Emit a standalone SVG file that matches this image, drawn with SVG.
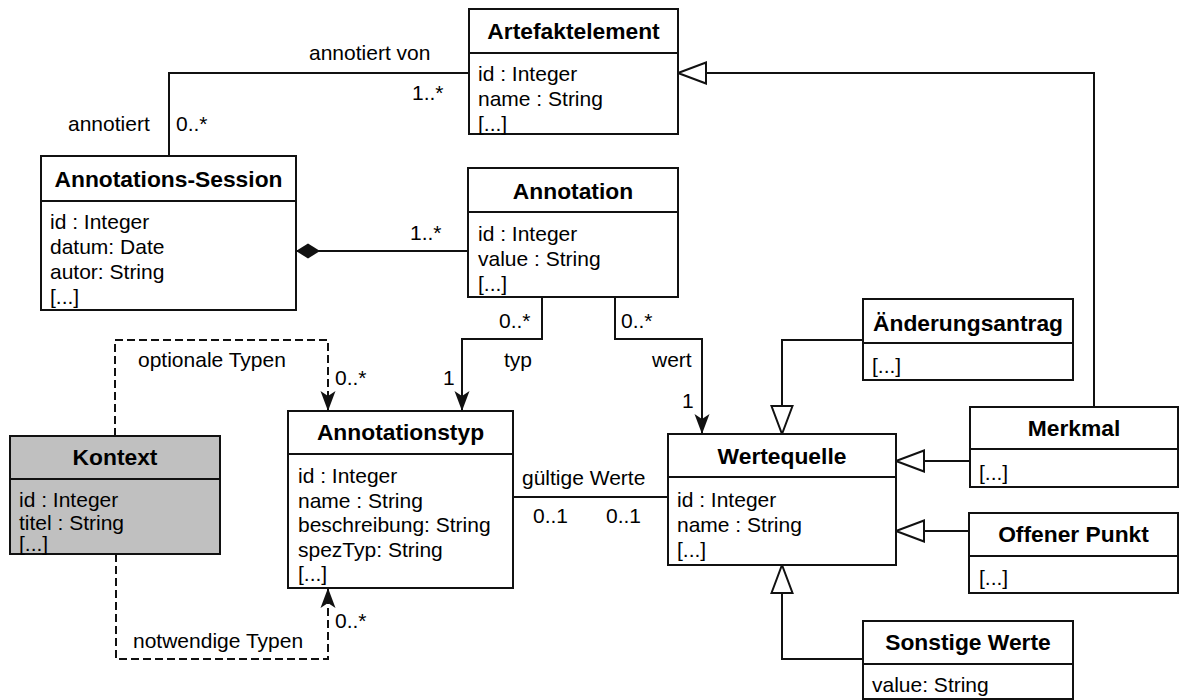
<svg xmlns="http://www.w3.org/2000/svg" width="1179" height="700" viewBox="0 0 1179 700">
<style>
.box{fill:#fff;stroke:#111;stroke-width:2}
.ctx{fill:#c0c0c0;stroke:#111;stroke-width:2}
.div{stroke:#111;stroke-width:2}
.t{font-family:"Liberation Sans",Arial,sans-serif;font-size:22.8px;font-weight:bold;fill:#000;text-anchor:middle}
.a{font-family:"Liberation Sans",Arial,sans-serif;font-size:21px;fill:#000}
.ln{fill:none;stroke:#111;stroke-width:2}
.dash{fill:none;stroke:#111;stroke-width:2;stroke-dasharray:8 4}
</style>
<defs>
<marker id="gen" markerUnits="userSpaceOnUse" viewBox="0 0 30 24" markerWidth="30" markerHeight="24" refX="29" refY="12" orient="auto">
<path d="M1,1.5 L29,12 L1,22.5 Z" fill="#fff" stroke="#111" stroke-width="2"/>
</marker>
<marker id="arr" markerUnits="userSpaceOnUse" viewBox="0 0 20 16" markerWidth="20" markerHeight="16" refX="20" refY="8" orient="auto">
<path d="M0,0.5 L20,8 L0,15.5 L5,8 Z" fill="#111"/>
</marker>
<marker id="dia" markerUnits="userSpaceOnUse" viewBox="0 0 24 16" markerWidth="24" markerHeight="16" refX="0" refY="8" orient="auto">
<path d="M0,8 L12,0.5 L24,8 L12,15.5 Z" fill="#111"/>
</marker>
</defs>
<rect width="1179" height="700" fill="#fff"/>

<g id="connectors">
<polyline class="ln" points="169,156 169,73 469,73"/>
<line class="ln" x1="296" y1="251" x2="468" y2="251" marker-start="url(#dia)"/>
<polyline class="ln" points="542,297 542,339 462,339 462,411" marker-end="url(#arr)"/>
<polyline class="ln" points="615,297 615,339 702,339 702,434" marker-end="url(#arr)"/>
<line class="ln" x1="513" y1="497" x2="668" y2="497"/>
<polyline class="dash" points="115,436 115,340 328,340 328,411" marker-end="url(#arr)"/>
<polyline class="dash" points="116,554 116,659 328,659 328,588" marker-end="url(#arr)"/>
<polyline class="ln" points="863,340 782,340 782,434" marker-end="url(#gen)"/>
<line class="ln" x1="970" y1="461" x2="896" y2="461" marker-end="url(#gen)"/>
<line class="ln" x1="969" y1="531" x2="896" y2="531" marker-end="url(#gen)"/>
<polyline class="ln" points="863,659 782,659 782,565" marker-end="url(#gen)"/>
<polyline class="ln" points="1094,407 1094,73 678,73" marker-end="url(#gen)"/>

<text class="a" x="309" y="60">annotiert von</text>
<text class="a" x="412" y="100">1..*</text>
<text class="a" x="68" y="131">annotiert</text>
<text class="a" x="176" y="131">0..*</text>
<text class="a" x="410" y="240">1..*</text>
<text class="a" x="499" y="328">0..*</text>
<text class="a" x="504" y="367">typ</text>
<text class="a" x="443" y="385">1</text>
<text class="a" x="621" y="328">0..*</text>
<text class="a" x="652" y="367">wert</text>
<text class="a" x="682" y="408">1</text>
<text class="a" x="522" y="485">gültige Werte</text>
<text class="a" x="533" y="523">0..1</text>
<text class="a" x="606" y="523">0..1</text>
<text class="a" x="138" y="367">optionale Typen</text>
<text class="a" x="335" y="385">0..*</text>
<text class="a" x="133" y="648">notwendige Typen</text>
<text class="a" x="335" y="628">0..*</text>
</g>

<g id="artefaktelement">
<rect class="box" x="469" y="9" width="209" height="125"/>
<line class="div" x1="469" y1="53" x2="678" y2="53"/>
<text class="t" x="573.5" y="39">Artefaktelement</text>
<text class="a" x="478" y="81">id : Integer</text>
<text class="a" x="478" y="106">name : String</text>
<text class="a" x="478" y="131">[...]</text>
</g>

<g id="annotations-session">
<rect class="box" x="41" y="156" width="255" height="154"/>
<line class="div" x1="41" y1="201" x2="296" y2="201"/>
<text class="t" x="168.5" y="187">Annotations-Session</text>
<text class="a" x="50" y="229">id : Integer</text>
<text class="a" x="50" y="254">datum: Date</text>
<text class="a" x="50" y="279">autor: String</text>
<text class="a" x="50" y="304">[...]</text>
</g>

<g id="annotation">
<rect class="box" x="468" y="168" width="210" height="129"/>
<line class="div" x1="468" y1="212" x2="678" y2="212"/>
<text class="t" x="573" y="199">Annotation</text>
<text class="a" x="478" y="241">id : Integer</text>
<text class="a" x="478" y="266">value : String</text>
<text class="a" x="478" y="291">[...]</text>
</g>

<g id="annotationstyp">
<rect class="box" x="288" y="411" width="225" height="177"/>
<line class="div" x1="288" y1="454" x2="513" y2="454"/>
<text class="t" x="400.5" y="440">Annotationstyp</text>
<text class="a" x="298" y="483">id : Integer</text>
<text class="a" x="298" y="507.5">name : String</text>
<text class="a" x="298" y="532">beschreibung: String</text>
<text class="a" x="298" y="556.5">spezTyp: String</text>
<text class="a" x="298" y="581">[...]</text>
</g>

<g id="kontext">
<rect class="ctx" x="10" y="436" width="210" height="118"/>
<line class="div" x1="10" y1="479" x2="220" y2="479"/>
<text class="t" x="115" y="465">Kontext</text>
<text class="a" x="19" y="507">id : Integer</text>
<text class="a" x="19" y="530">titel : String</text>
<text class="a" x="19" y="551">[...]</text>
</g>

<g id="wertequelle">
<rect class="box" x="668" y="434" width="228" height="131"/>
<line class="div" x1="668" y1="477" x2="896" y2="477"/>
<text class="t" x="782" y="464">Wertequelle</text>
<text class="a" x="677" y="507">id : Integer</text>
<text class="a" x="677" y="532">name : String</text>
<text class="a" x="677" y="557">[...]</text>
</g>

<g id="aenderungsantrag">
<rect class="box" x="863" y="299" width="210" height="81"/>
<line class="div" x1="863" y1="343" x2="1073" y2="343"/>
<text class="t" x="968" y="331">Änderungsantrag</text>
<text class="a" x="872" y="373">[...]</text>
</g>

<g id="merkmal">
<rect class="box" x="970" y="407" width="208" height="80"/>
<line class="div" x1="970" y1="449" x2="1178" y2="449"/>
<text class="t" x="1074" y="436">Merkmal</text>
<text class="a" x="979" y="480">[...]</text>
</g>

<g id="offener-punkt">
<rect class="box" x="969" y="513" width="209" height="80"/>
<line class="div" x1="969" y1="556" x2="1178" y2="556"/>
<text class="t" x="1073.5" y="542">Offener Punkt</text>
<text class="a" x="979" y="585">[...]</text>
</g>

<g id="sonstige-werte">
<rect class="box" x="863" y="621" width="210" height="78"/>
<line class="div" x1="863" y1="664" x2="1073" y2="664"/>
<text class="t" x="968" y="650">Sonstige Werte</text>
<text class="a" x="872" y="692">value: String</text>
</g>
</svg>
